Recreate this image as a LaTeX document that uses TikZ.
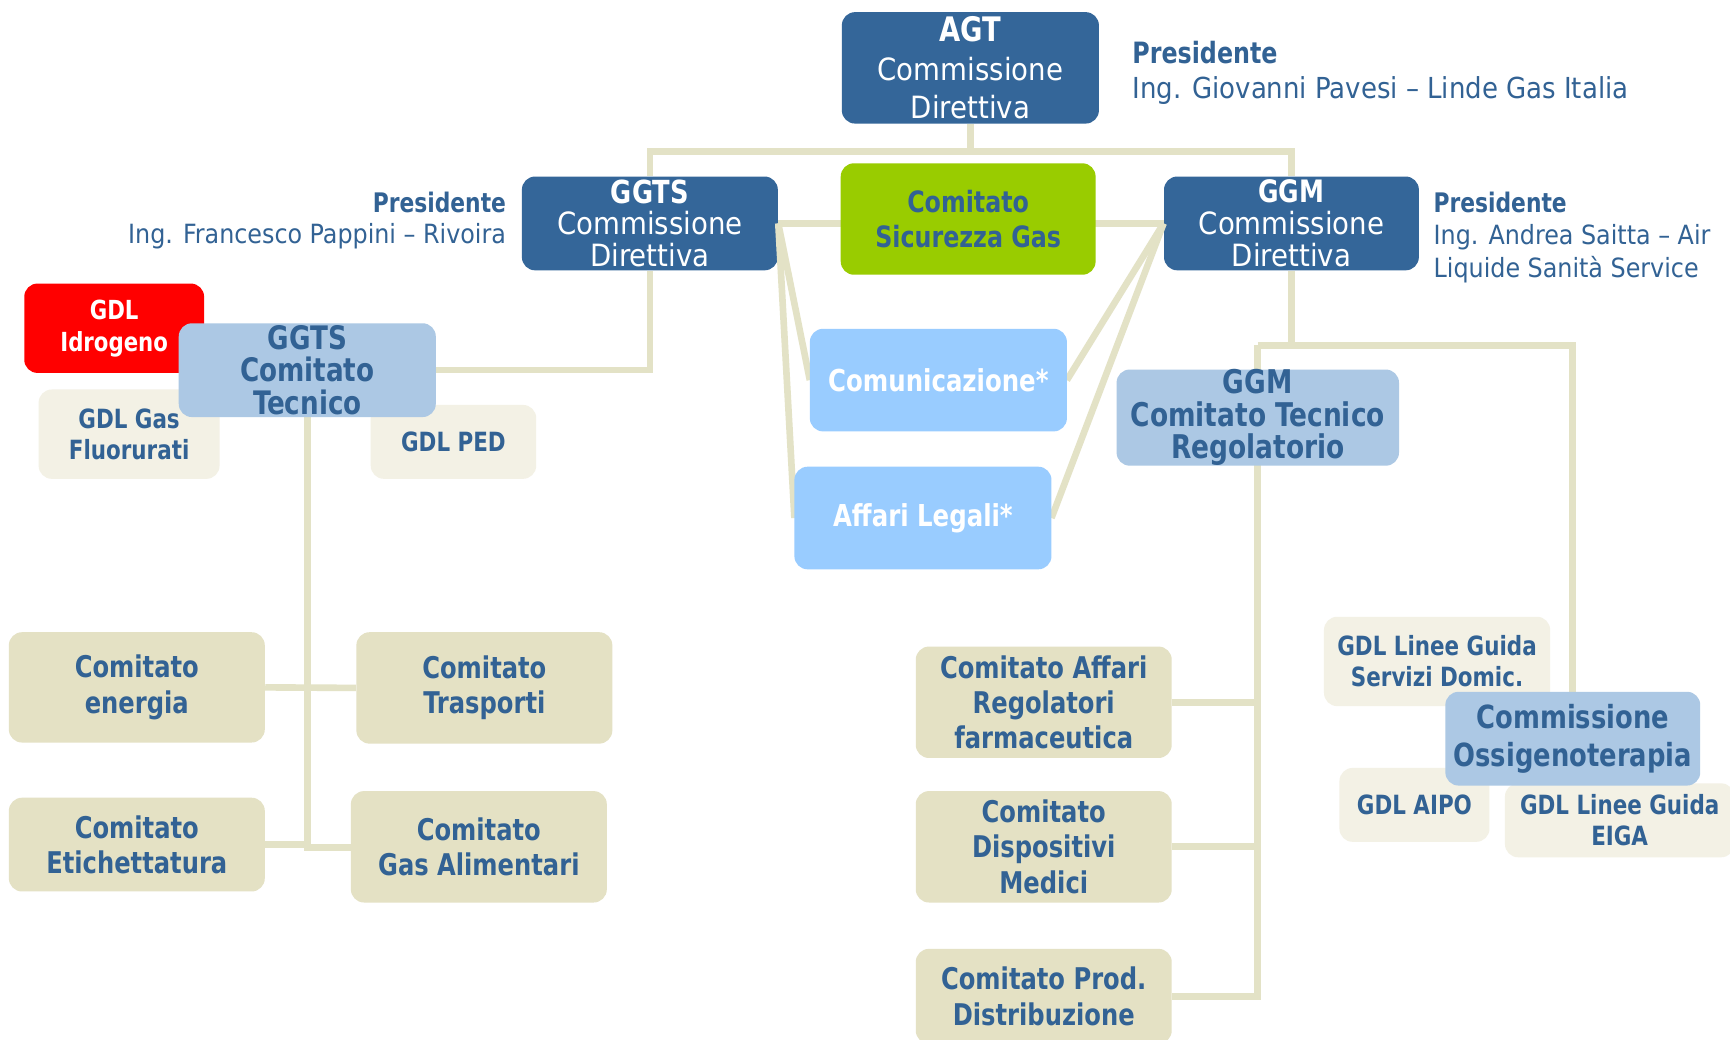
\documentclass[tikz,border=0pt]{standalone}
\usepackage{fontspec}
\setmainfont{DejaVu Sans Condensed}[BoldFeatures={FakeStretch=0.9}]
\definecolor{dkb}{RGB}{52,102,153}
\definecolor{txb}{RGB}{50,98,148}
\definecolor{grn}{RGB}{153,204,0}
\definecolor{ltb}{RGB}{153,204,255}
\definecolor{stb}{RGB}{172,200,228}
\definecolor{bge}{RGB}{228,225,196}
\definecolor{lbg}{RGB}{243,241,229}
\definecolor{lnc}{RGB}{227,226,198}
\begin{document}
\begin{tikzpicture}[x=0.5pt,y=-0.5pt,
  sz/.style 2 args={minimum width=#1*0.5pt, minimum height=#2*0.5pt},
  box/.style={rounded corners=6pt, inner sep=0pt, align=center, anchor=center},
  dk/.style={box, fill=dkb, text=white, font=\fontsize{13.9}{14.5}\selectfont},
  gr/.style={box, fill=grn, text=txb, font=\bfseries\fontsize{13.3}{16}\selectfont},
  lb/.style={box, fill=ltb, text=white, font=\bfseries\fontsize{13.67}{15}\selectfont},
  st/.style={box, fill=stb, text=txb, font=\bfseries\fontsize{14.67}{14.7}\selectfont},
  bg/.style={box, fill=bge, text=txb, font=\bfseries\fontsize{13.55}{16}\selectfont},
  gd/.style={box, fill=lbg, text=txb, font=\bfseries\fontsize{12}{14}\selectfont},
  rd/.style={box, fill=red, text=white, font=\bfseries\fontsize{11.9}{14.5}\selectfont},
  pres/.style={text=txb, inner sep=0pt},
  conn/.style={draw=lnc, line width=3pt}]
\fill[white] (0,0) rectangle (1568,942);
\useasboundingbox (0,0) rectangle (1568,942);

% top
\node[dk, sz={233}{101}, font=\fontsize{13.9}{17.5}\selectfont] (agt) at (879.5,61.5) {{\fontsize{15.3}{17.5}\selectfont\textbf{AGT}}\\Commissione\\Direttiva};
\node[dk, sz={232}{85}] (ggtsd) at (589,202.5) {{\fontsize{14.4}{14.5}\selectfont\textbf{GGTS}}\\Commissione\\Direttiva};
\node[dk, sz={231}{85}] (ggmd) at (1170.5,202.5) {{\fontsize{14}{14.5}\selectfont\textbf{GGM}}\\Commissione\\Direttiva};

% connectors top
\draw[conn] (agt.south) -- ++(0,25) coordinate (j1);
\draw[conn] (ggtsd.north) |- (j1) -| (ggmd.north);
\draw[conn] (ggtsd.east) -- (ggmd.west);

\node[gr, sz={231}{101}] (csg) at (877.5,198.5) {Comitato\\Sicurezza Gas};

\coordinate (comw) at (734,344.5);
\coordinate (come) at (967,344.5);
\coordinate (affw) at (720,469.5);
\coordinate (affe) at (953,469.5);
\draw[conn] (ggtsd.east) -- (comw);
\draw[conn] (ggtsd.east) -- (affw);
\draw[conn] (ggmd.west) -- (come);
\draw[conn] (ggmd.west) -- (affe);
\node[lb, sz={233}{93}] (com) at (850.5,344.5) {Comunicazione*};
\node[lb, sz={233}{93}] (aff) at (836.5,469.5) {Affari Legali*};

% left side GGTS
\node[rd, sz={163}{81}] (idro) at (103.5,297.5) {GDL\\Idrogeno};
\node[gd, sz={164}{81}] (fluo) at (117,393.5) {GDL Gas\\Fluorurati};
\node[gd, sz={150}{67}] (ped) at (411,400.5) {GDL PED};
\coordinate (ctc) at (278.5,335.5);
\draw[conn] (395,335.5) -| (ggtsd.south);
\draw[conn] (ctc) -- (278.5,768) -- (318,768);
\node[st, sz={233}{85}] (ggtsct) at (ctc) {GGTS\\Comitato\\Tecnico};

\node[bg, sz={232}{100}] (ene) at (124,623) {Comitato\\energia};
\node[bg, sz={232}{101}] (tra) at (439,623.5) {Comitato\\Trasporti};
\node[bg, sz={232}{85}] (eti) at (124,765.5) {Comitato\\Etichettatura};
\node[bg, sz={232}{101}] (ali) at (434,767.5) {Comitato\\Gas Alimentari};
\draw[conn] (ene.east) -- (tra.west);
\draw[conn] (eti.east) -- (eti.east -| ggtsct.south);

% right side GGM
\draw[conn] (ggmd.south) -- ++(0,68) coordinate (j2);
\coordinate (vx) at (1140,313);
\draw[conn] (vx) -- (1425.5,313) -- (1425.5,627);
\draw[conn] (vx) -- (1140,903) -- (1062,903);
\draw[conn] (1062,636.5) -- (1140,636.5);
\draw[conn] (1062,767.5) -- (1140,767.5);
\node[st, sz={256}{85}, font=\bfseries\fontsize{14.8}{14.7}\selectfont] (ggmct) at (1140,378.5) {GGM\\Comitato Tecnico\\Regolatorio};
\node[bg, sz={232}{101}] (far) at (946,636.5) {Comitato Affari\\Regolatori\\farmaceutica};
\node[bg, sz={232}{101}] (dis) at (946,767.5) {Comitato\\Dispositivi\\Medici};
\node[bg, sz={232}{86}] (pro) at (946,903) {Comitato Prod.\\Distribuzione};

\node[gd, sz={205}{81}] (dom) at (1302.5,599.5) {GDL Linee Guida\\Servizi Domic.};
\node[gd, sz={136}{67}] (aipo) at (1282,729.5) {GDL AIPO};
\node[gd, sz={208}{67}] (eiga) at (1468,743.5) {GDL Linee Guida\\EIGA};
\node[st, sz={231}{85}, font=\bfseries\fontsize{14.44}{17.5}\selectfont] (oss) at (1425.5,669.5) {Commissione\\Ossigenoterapia};

% presidents
\node[pres, anchor=west, align=left, font=\fontsize{13.1}{16}\selectfont] (p1) at (1026,66) {{\fontsize{13.3}{16}\selectfont\textbf{Presidente}}\\Ing. Giovanni Pavesi – Linde Gas Italia};
\node[pres, anchor=east, align=right, font=\fontsize{12}{14.3}\selectfont] (p2) at (459,200) {{\fontsize{12.2}{14.3}\selectfont\textbf{Presidente}}\\Ing. Francesco Pappini – Rivoira};
\node[pres, anchor=west, align=left, font=\fontsize{12}{14.7}\selectfont] (p3) at (1299,215) {{\fontsize{12.2}{14.7}\selectfont\textbf{Presidente}}\\Ing. Andrea Saitta – Air\\Liquide Sanità Service};
\end{tikzpicture}
\end{document}
